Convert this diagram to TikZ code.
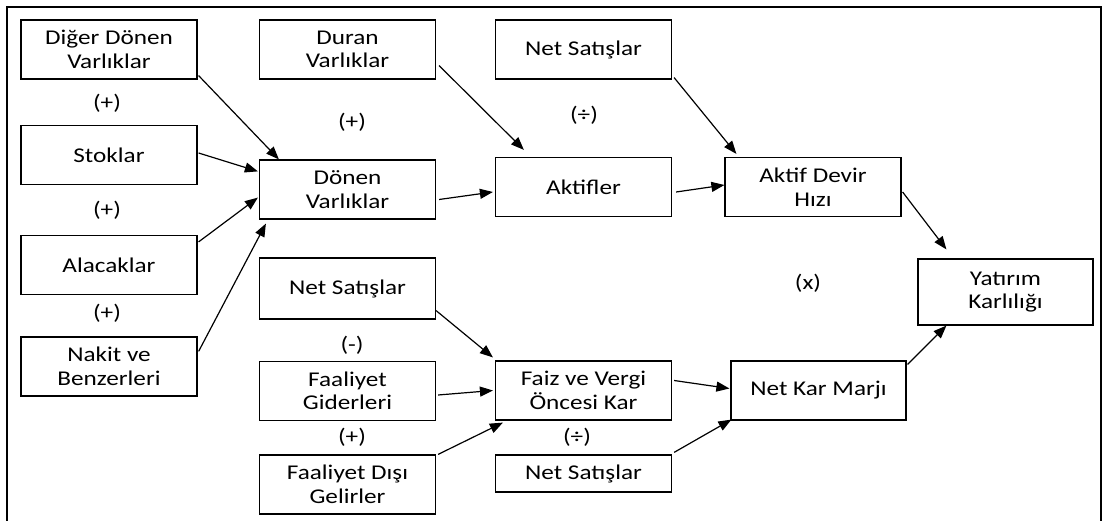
\documentclass[tikz,border=0pt]{standalone}
\usepackage{fontspec}
\setmainfont{Carlito}[FakeStretch=1.2]
\usetikzlibrary{arrows.meta,calc}

\tikzset{
  box/.style={draw, line width=1.2pt, minimum width=176pt, minimum height=59pt,
    align=center, inner sep=2pt, font=\fontsize{21}{23.5}\selectfont},
  sign/.style={font=\fontsize{21}{23.5}\selectfont},
  link/.style={line width=1.2pt, -{Triangle[length=13pt,width=10pt]}}
}

\begin{document}
\begin{tikzpicture}[x=1pt,y=-1pt]
\useasboundingbox (0,0) rectangle (1113,521);
\draw[line width=2pt] (7,521) -- (7,7) -- (1101,7) -- (1101,521);
\node[box] (dd) at (109,49.5) {Diğer Dönen\\Varlıklar};
\node[box] (st) at (109,155) {Stoklar};
\node[box] (al) at (109,265) {Alacaklar};
\node[box] (nk) at (109,366.5) {Nakit ve\\Benzerleri};
\node[box] (du) at (347.5,49.5) {Duran\\Varlıklar};
\node[box] (dn) at (347.5,189.5) {Dönen\\Varlıklar};
\node[box, minimum height=61pt] (ns1) at (347.5,288.5) {Net Satışlar};
\node[box] (fg) at (347.5,391) {Faaliyet\\Giderleri};
\node[box] (fd) at (347.5,484.5) {Faaliyet Dışı\\Gelirler};
\node[box] (ns2) at (583.5,49.5) {Net Satışlar};
\node[box] (ak) at (583.5,187) {Aktifler};
\node[box] (fv) at (583.5,390.5) {Faiz ve Vergi\\Öncesi Kar};
\node[box, minimum height=37pt] (ns3) at (583.5,473.5) {Net Satışlar};
\node[box] (adh) at (813,187) {Aktif Devir\\Hızı};
\node[box, minimum width=175pt] (nkm) at (818.5,390.5) {Net Kar Marjı};
\node[box, minimum width=175pt, minimum height=66pt] (yk) at (1005.5,292) {Yatırım\\Karlılığı};
\node[sign] (s1) at (107,103) {(+)};
\node[sign] (s2) at (107,210) {(+)};
\node[sign] (s3) at (107,313) {(+)};
\node[sign] (s4) at (352,122) {(+)};
\node[sign] (s5) at (352,345) {(-)};
\node[sign] (s6) at (352,437) {(+)};
\node[sign] (s7) at (584,115) {(÷)};
\node[sign] (s8) at (577,437) {(÷)};
\node[sign] (s9) at (808,283) {(x)};
\draw[link] ($(dd.south east)+(1,-4)$) -- ($(dn.north west)+(20,0)$);
\draw[link] ($(st.east)+(1,-2)$) -- ($(dn.north west)+(-1,12)$);
\draw[link] ($(al.north east)+(1,7)$) -- ($(dn.south west)+(-1,-22)$);
\draw[link] ($(nk.north east)+(1,15)$) -- ($(dn.south west)+(7,4)$);
\draw[link] ($(du.south east)+(3,-14)$) -- ($(ak.north west)+(29,-7)$);
\draw[link] ($(dn.east)+(3,10)$) -- ($(ak.west)+(-2,5)$);
\draw[link] ($(ns2.south east)+(2,-2)$) -- ($(adh.north west)+(12,-3)$);
\draw[link] ($(ak.east)+(4,5)$) -- ($(adh.west)+(0,-2)$);
\draw[link] ($(adh.east)+(1,5)$) -- ($(yk.north west)+(29,-9)$);
\draw[link] ($(ns1.south east)+(0,-9)$) -- ($(fv.north west)+(-2,-3)$);
\draw[link] ($(fg.east)+(2,4)$) -- ($(fv.west)+(-2,0)$);
\draw[link] ($(fd.north east)+(2,0)$) -- ($(fv.south west)+(8,2)$);
\draw[link] ($(fv.east)+(2,-10)$) -- ($(nkm.west)+(-1,-2)$);
\draw[link] ($(ns3.north east)+(2,-2)$) -- ($(nkm.south west)+(1,-1)$);
\draw[link] ($(nkm.north east)+(1,4)$) -- ($(yk.south west)+(29,0)$);
\end{tikzpicture}
\end{document}
